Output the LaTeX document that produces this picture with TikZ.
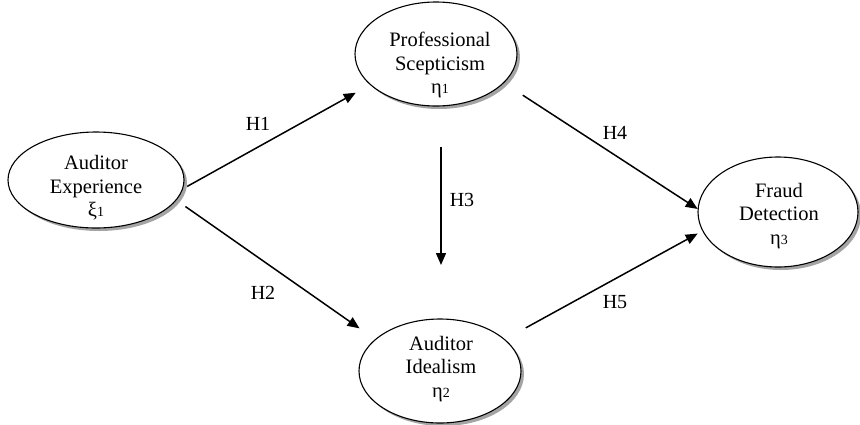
\documentclass[tikz,border=0pt]{standalone}
\usepackage{fontspec}
\setmainfont{Liberation Serif}
\usetikzlibrary{shapes.geometric,shadows,arrows.meta}
\newcommand\gsub[1]{{\fontsize{14}{14}\selectfont #1}}
\begin{document}
\begin{tikzpicture}[x=1pt,y=-1pt,
  latent/.style={ellipse, draw, line width=1.1pt, fill=white, inner sep=0pt, outer sep=0pt,
    drop shadow={shadow xshift=3pt,shadow yshift=-3pt,opacity=0.55,fill=black!65}},
  lbl/.style={font=\fontsize{20.5}{23.5}\selectfont, align=center, inner sep=0pt},
  hyp/.style={font=\fontsize{20}{24}\selectfont, inner sep=0pt},
  conn/.style={line width=1.5pt, -{Triangle[length=12pt,width=10pt]}}]
\useasboundingbox (0,0) rectangle (860,424);
% latent variables
\node[latent, minimum width=176pt, minimum height=96pt] (ae) at (96,180) {};
\node[latent, minimum width=162pt, minimum height=104pt] (ps) at (436,54) {};
\node[latent, minimum width=162pt, minimum height=104pt] (ai) at (440,371) {};
\node[latent, minimum width=160pt, minimum height=110pt] (fd) at (778,212) {};
% texts
\node[lbl] (aet) at (96,187.75) {Auditor\\Experience\\ξ\gsub{1}};
\node[lbl] (pst) at (440,65.25) {Professional\\Scepticism\\η\gsub{1}};
\node[lbl] (ait) at (441,368.75) {Auditor\\Idealism\\η\gsub{2}};
\node[lbl] (fdt) at (779,215.75) {Fraud\\Detection\\η\gsub{3}};
% connectors
\draw[conn, shorten <=5.4pt, shorten >=16.8pt] (ae.-6) -- (ps.205);
\draw[conn, shorten <=11.5pt, shorten >=19.5pt] (ae.-14) -- (ai.154);
\draw[conn, shorten <=41pt, shorten >=54pt] ([xshift=5pt]ps.south) -- ([xshift=1pt]ai.north);
\draw[conn, shorten <=22.9pt, shorten >=0.5pt] (ps.-23) -- (fd.178);
\draw[conn, shorten <=24.3pt, shorten >=5.8pt] (ai.26) -- (fd.194);
% hypothesis labels
\node[hyp] (h1) at (258,124) {H1};
\node[hyp] (h2) at (263,293) {H2};
\node[hyp] (h3) at (462,200) {H3};
\node[hyp] (h4) at (615,133) {H4};
\node[hyp] (h5) at (615,302) {H5};
\end{tikzpicture}
\end{document}
